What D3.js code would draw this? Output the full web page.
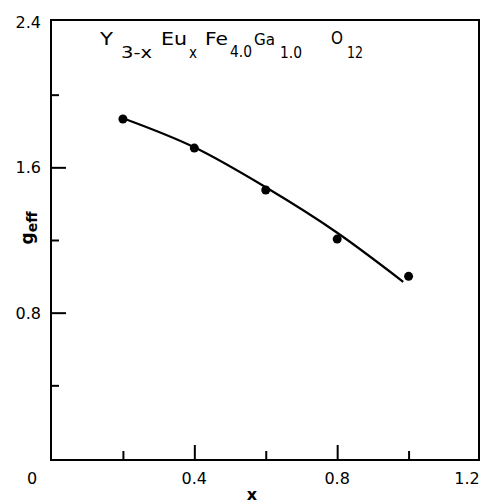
<!DOCTYPE html>
<meta charset="utf-8">
<style>
  body { margin: 0; background: #fff; }
  text { font-family: "DejaVu Sans", sans-serif; fill: #000; }
  .frame { fill: none; stroke: #000; stroke-width: 2px; }
  .ax line { stroke: #000; stroke-width: 2px; }
  .ax path { display: none; }
</style>
<svg id="svg" width="483" height="504"></svg>
<script src="https://cdnjs.cloudflare.com/ajax/libs/d3/7.8.5/d3.min.js"></script>
<script>
  // measured points (x, g_eff)
  var xVals = [0.2, 0.4, 0.6, 0.8, 1.0];
  var gVals = [1.866, 1.706, 1.475, 1.205, 1.0];

  // the drawn fit curve
  var fitX = [0.2, 0.4, 0.6, 0.8, 0.985];
  var fitG = [1.87, 1.71, 1.49, 1.24, 0.97];

  var xMajor = [0.4, 0.8];
  var xMinor = [0.2, 0.6, 1.0];
  var xLabels = ["0", "0.4", "0.8", "1.2"];
  var yMajor = [0.8, 1.6];
  var yMinor = [0.4, 1.2, 2.0];
  var yLabels = ["0.8", "1.6", "2.4"];

  var svg = d3.select("svg");

  var x = d3.scaleLinear().domain([0, 1.2]).range([51.5, 480]);
  var y = d3.scaleLinear().domain([0, 2.4]).range([458, 22]);

  // frame
  svg.append("rect").attr("class", "frame")
    .attr("x", 51).attr("y", 20).attr("width", 428).attr("height", 440);

  // inward ticks
  svg.append("g").attr("class", "ax").attr("transform", "translate(51,0)")
    .call(d3.axisLeft(y).tickValues(yMajor).tickSize(-15).tickFormat(""));
  svg.append("g").attr("class", "ax").attr("transform", "translate(51,0)")
    .call(d3.axisLeft(y).tickValues(yMinor).tickSize(-8).tickFormat(""));
  svg.append("g").attr("class", "ax").attr("transform", "translate(0,460)")
    .call(d3.axisBottom(x).tickValues(xMajor).tickSize(-15).tickFormat(""));
  svg.append("g").attr("class", "ax").attr("transform", "translate(0,460)")
    .call(d3.axisBottom(x).tickValues(xMinor).tickSize(-9).tickFormat(""));

  // y tick labels
  svg.selectAll(".yl").data(yLabels).enter().append("text")
    .attr("x", 41).attr("y", function (d) { return y(+d) + 6; })
    .attr("text-anchor", "end").style("font-size", "16px")
    .text(function (d) { return d; });

  // x tick labels
  svg.selectAll(".xl").data(xLabels).enter().append("text")
    .attr("x", function (d) { return d === "0" ? 32 : d === "1.2" ? 467 : x(+d); })
    .attr("y", 484).attr("text-anchor", "middle").style("font-size", "16px")
    .text(function (d) { return d; });

  // axis titles
  svg.append("text").attr("x", 252).attr("y", 500).attr("text-anchor", "middle")
    .style("font-size", "16px").style("font-weight", "bold").text("x");

  var yl = svg.append("text").attr("transform", "translate(33,228) rotate(-90)")
    .attr("text-anchor", "middle").style("font-size", "17px").style("font-weight", "bold");
  yl.append("tspan").text("g");
  yl.append("tspan").attr("dy", 4).style("font-size", "14px").text("eff");

  // formula pieces: text, x, baseline, size, width
  var parts = [
    ["Y", 100, 45, 18, 13], ["3-x", 121, 58, 16, 31],
    ["Eu", 161, 45, 18, 26], ["x", 189, 58, 16, 8],
    ["Fe", 205, 45, 18, 23], ["4.0", 230, 57, 16, 22],
    ["Ga", 254, 45, 16, 21], ["1.0", 280, 58, 16, 22],
    ["O", 331, 44, 17, 12], ["12", 347, 58, 16, 16]
  ];
  svg.selectAll(".f").data(parts).enter().append("text")
    .attr("x", function (d) { return d[1]; }).attr("y", function (d) { return d[2]; })
    .attr("textLength", function (d) { return d[4]; })
    .attr("lengthAdjust", "spacingAndGlyphs")
    .style("font-size", function (d) { return d[3] + "px"; })
    .text(function (d) { return d[0]; });

  // fit curve
  var line = d3.line()
    .x(function (d) { return x(d[0]); })
    .y(function (d) { return y(d[1]); })
    .curve(d3.curveMonotoneX);
  svg.append("path")
    .datum(d3.zip(fitX, fitG))
    .attr("d", line)
    .attr("fill", "none").attr("stroke", "#000").attr("stroke-width", 2.2);

  // points
  svg.selectAll(".pt").data(d3.zip(xVals, gVals)).enter().append("circle")
    .attr("cx", function (d) { return x(d[0]); })
    .attr("cy", function (d) { return y(d[1]); })
    .attr("r", 4.5).attr("fill", "#000");
</script>
